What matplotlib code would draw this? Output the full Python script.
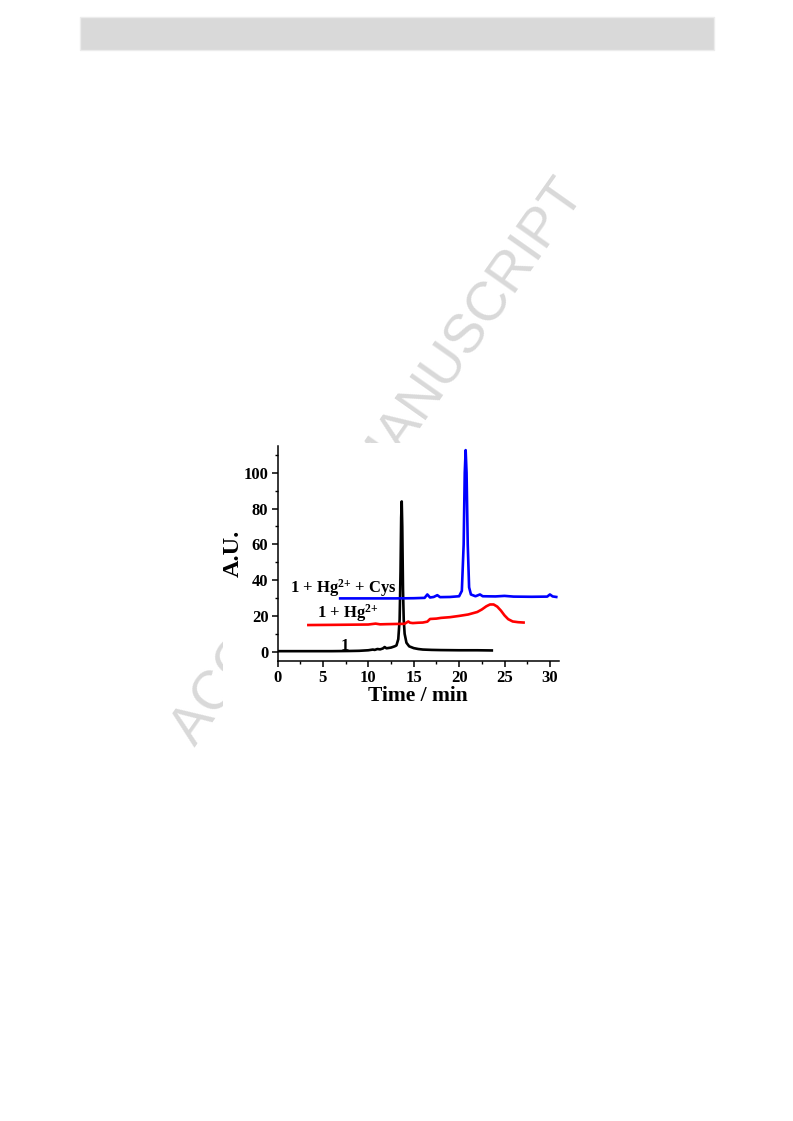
import matplotlib
matplotlib.use("Agg")
import matplotlib.pyplot as plt
from matplotlib.patches import Rectangle
from matplotlib.ticker import MultipleLocator

plt.rcParams['font.family'] = ['Liberation Serif', 'DejaVu Serif']
plt.rcParams['font.weight'] = 'bold'
plt.rcParams['mathtext.fontset'] = 'custom'
plt.rcParams['mathtext.rm'] = 'Liberation Serif:bold'
plt.rcParams['mathtext.bf'] = 'Liberation Serif:bold'
plt.rcParams['mathtext.it'] = 'Liberation Serif:bold'

# ---- data ----
t_1 = [0, 2, 4, 6, 8, 9, 10, 10.5, 10.7, 11, 11.3, 11.6, 11.8, 12, 12.5, 12.9,
       13.1, 13.3, 13.45, 13.55, 13.62, 13.68, 13.74, 13.82, 13.9, 14.0, 14.2,
       14.5, 15, 15.5, 16, 17, 18, 20, 22, 23.6]
y_1 = [0.3, 0.3, 0.3, 0.3, 0.4, 0.5, 0.8, 1.2, 1.0, 1.5, 1.3, 1.8, 2.6, 1.9,
       2.3, 3.0, 3.5, 7, 18, 45, 75, 84, 70, 35, 18, 10, 5,
       3, 2, 1.5, 1.2, 1.0, 0.9, 0.8, 0.8, 0.7]

t_hg = [3.4, 6, 8, 10, 10.8, 11.3, 12, 13, 14, 14.4, 14.6, 14.9, 15.5, 16,
        16.5, 16.8, 17.5, 18, 19, 20, 21, 22, 22.5, 23, 23.4, 23.8, 24.2,
        24.6, 25, 25.4, 25.9, 26.5, 27.1]
y_hg = [14.9, 15.0, 15.1, 15.2, 15.7, 15.3, 15.4, 15.5, 15.6, 16.9, 16.2,
        16.0, 16.2, 16.3, 16.8, 18.3, 18.5, 18.9, 19.3, 20.0, 20.8, 22.2,
        23.6, 25.4, 26.4, 26.4, 25.2, 23.0, 20.3, 18.2, 16.9, 16.5, 16.3]

t_cys = [6.9, 9, 11, 13, 15, 16.2, 16.5, 16.8, 17.2, 17.6, 17.9, 19, 20.0,
         20.3, 20.5, 20.62, 20.72, 20.82, 20.95, 21.1, 21.3, 21.8, 22.3,
         22.6, 24, 25, 26, 28, 29.7, 30.0, 30.3, 30.7]
y_cys = [29.8, 29.8, 29.8, 29.8, 29.9, 30.1, 32.0, 30.3, 30.6, 31.6, 30.5,
         30.6, 31.0, 34, 60, 100, 112.7, 100, 60, 36, 32.0, 31.0, 32.0,
         31.0, 30.9, 31.2, 30.8, 30.7, 30.8, 32.0, 30.9, 30.6]

series = [
    (t_1, y_1, 'black'),
    (t_hg, y_hg, '#ff0000'),
    (t_cys, y_cys, '#0000ff'),
]
labels = [
    (6.9, 0.8, '1'),
    (4.3, 19.0, r'1 + Hg$^{2{+}}$'),
    (1.4, 33.0, r'1 + Hg$^{2{+}}$ + Cys'),
]
x_ticks = [0, 5, 10, 15, 20, 25, 30]
y_ticks = [0, 20, 40, 60, 80, 100]

W, H = 793, 1121
fig = plt.figure(figsize=(W / 100, H / 100), dpi=100)

# header bar
fig.patches.append(Rectangle((80 / W, 1 - 50 / H), 634 / W, 33 / H,
                             transform=fig.transFigure, facecolor='#d9d9d9',
                             edgecolor='#ececec', linewidth=1, zorder=-3))
# watermark
fig.text(379 / W, 1 - 463 / H, 'ACCEPTED MANUSCRIPT', rotation=54.8,
         rotation_mode='anchor', ha='center', va='center', fontsize=39.5,
         color='#d9d9d9', family='Liberation Sans', fontweight='normal',
         zorder=-2)
# white backing of the figure image
fig.patches.append(Rectangle((223 / W, 1 - 712 / H), (572 - 223) / W,
                             (712 - 443) / H, transform=fig.transFigure,
                             facecolor='white', edgecolor='none', zorder=-1))

ax = fig.add_axes([277.5 / W, 1 - 661 / H, (559 - 277.5) / W, (661 - 446) / H])
ax.patch.set_alpha(0)
for tx, ty, c in series:
    ax.plot(tx, ty, color=c, linewidth=1.9, solid_joinstyle='round')

for lx, ly, s in labels:
    ax.text(lx, ly, s, fontsize=12, fontweight='bold', ha='left',
            va='baseline')

ax.set_xlim(0, 31)
ax.set_ylim(-5.2, 115)
ax.set_xticks(x_ticks)
ax.set_yticks(y_ticks)
ax.xaxis.set_minor_locator(MultipleLocator(2.5))
ax.yaxis.set_minor_locator(MultipleLocator(10))
ax.spines['top'].set_visible(False)
ax.spines['right'].set_visible(False)
for s in ('left', 'bottom'):
    ax.spines[s].set_linewidth(1.1)
ax.tick_params(which='major', direction='out', length=4, width=1.1,
               labelsize=12, pad=2.5)
ax.tick_params(which='minor', direction='out', length=2.5, width=1.0)
for lab in ax.get_xticklabels() + ax.get_yticklabels():
    lab.set_fontweight('bold')
ax.set_xlabel('Time / min', fontsize=15.5, fontweight='bold', labelpad=0)
ax.set_ylabel('A.U.', fontsize=17.5, fontweight='bold', labelpad=0)

fig.savefig('out.png', dpi=100)
